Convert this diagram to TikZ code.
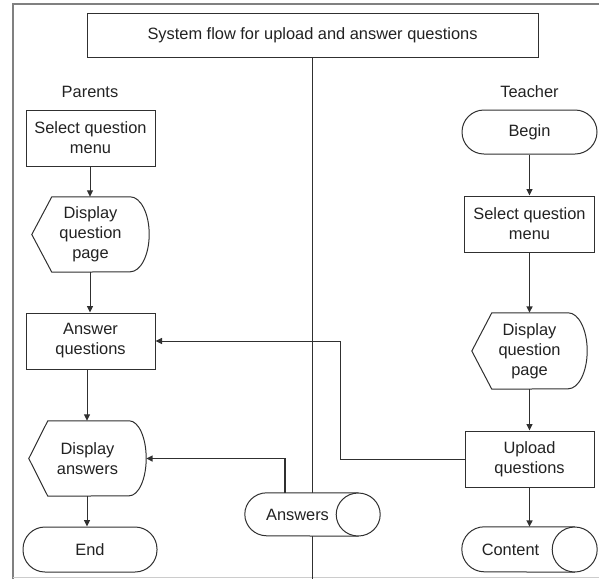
\documentclass[tikz,border=0pt]{standalone}
\usepackage{fontspec}
\setmainfont{Liberation Sans}
\usetikzlibrary{arrows.meta}
\definecolor{linec}{HTML}{303030}
\definecolor{framec}{HTML}{808080}
\definecolor{textc}{HTML}{222222}
\newcommand\labfont{\fontsize{16.4}{20}\selectfont}
\tikzset{
  box/.style={align=center, inner sep=0pt, font=\labfont, text=textc},
  proc/.style={box, draw=linec, line width=1pt, fill=white},
  term/.style={box, draw=linec, line width=1pt, fill=white, rounded corners=22pt},
  shapeline/.style={draw=linec, line width=1pt, fill=white},
  arr/.style={draw=linec, line width=1pt, -{Triangle[length=6.5pt,width=6pt]}},
  arrthick/.style={arr, line width=1.5pt},
  plain/.style={draw=linec, line width=1pt}
}
\begin{document}
\begin{tikzpicture}[x=1pt,y=-1pt]
\useasboundingbox (0,0) rectangle (599,579);
% outer frame
\draw[framec, line width=1.5pt] (13,579) -- (13,4) -- (599,4);
\draw[framec!40, line width=1pt] (13,577) -- (599,577);
% title
\node[proc, minimum width=451, minimum height=44] (title) at (312.5,35) {System flow for upload and answer questions};
\coordinate (cbot) at (312.5,579);
\draw[plain] (title.south) -- (cbot);
% lane labels
\node[box] (lblP) at (90,92) {Parents};
\node[box] (lblT) at (529.5,92) {Teacher};
% Parents lane
\node[proc, minimum width=129, minimum height=56] (selL) at (90.5,138) {Select question\\menu};
\node[box, minimum width=117, minimum height=75] (dqL) at (90.5,234.5) {};
\draw[shapeline] (dqL.west) -- ([xshift=20pt]dqL.north west) -- ([xshift=-19pt]dqL.north east)
  arc[start angle=-90, end angle=90, x radius=19, y radius=37.5] -- ([xshift=20pt]dqL.south west) -- cycle;
\node[box] at (dqL.center) {Display\\question\\page};
\node[proc, minimum width=129, minimum height=56] (ansL) at (90.5,341) {Answer\\questions};
\node[box, minimum width=117, minimum height=75] (dA) at (87.5,458.5) {};
\draw[shapeline] (dA.west) -- ([xshift=19pt]dA.north west) -- ([xshift=-17pt]dA.north east)
  arc[start angle=-90, end angle=90, x radius=17, y radius=37.5] -- ([xshift=19pt]dA.south west) -- cycle;
\node[box] at (dA.center) {Display\\answers};
\node[term, minimum width=134, minimum height=45] (endN) at (90,549.5) {End};
% Teacher lane
\node[term, minimum width=135, minimum height=44] (begin) at (529.5,132) {Begin};
\node[proc, minimum width=130, minimum height=56] (selR) at (529.5,224) {Select question\\menu};
\node[box, minimum width=115, minimum height=76] (dqR) at (529.5,351) {};
\draw[shapeline] (dqR.west) -- ([xshift=20pt]dqR.north west) -- ([xshift=-19pt]dqR.north east)
  arc[start angle=-90, end angle=90, x radius=19, y radius=38] -- ([xshift=20pt]dqR.south west) -- cycle;
\node[box] at (dqR.center) {Display\\question\\page};
\node[proc, minimum width=129, minimum height=56] (up) at (529.5,459) {Upload\\questions};
% Content store
\node[box, minimum width=135, minimum height=45] (cont) at (529.5,549.5) {};
\draw[shapeline] ([xshift=-22.5pt]cont.north east) -- ([xshift=22.5pt]cont.north west)
  arc[start angle=270, end angle=90, x radius=22.5, y radius=22.5] -- ([xshift=-22.5pt]cont.south east) -- cycle;
\draw[shapeline] ([xshift=-22.5pt]cont.east) ellipse[x radius=22.5, y radius=22.5];
\node[box] (contT) at (510.5,549.5) {Content};
% Answers store
\node[box, minimum width=135, minimum height=43] (ansC) at (312.5,514.5) {};
\draw[shapeline] ([xshift=-22pt]ansC.north east) -- ([xshift=22pt]ansC.north west)
  arc[start angle=270, end angle=90, x radius=22, y radius=21.5] -- ([xshift=-22pt]ansC.south east) -- cycle;
\draw[shapeline] ([xshift=-22pt]ansC.east) ellipse[x radius=22, y radius=21.5];
\node[box] (ansT) at (297.5,514.5) {Answers};
% connectors, Parents
\draw[arr] (selL.south -| 90,0) -- (dqL.north -| 90,0);
\draw[arr] (dqL.south -| 90,0) -- (ansL.north -| 90,0);
\draw[arr] (ansL.south -| 87,0) -- (dA.north -| 87,0);
\draw[arr] (dA.south -| 87,0) -- (endN.north -| 87,0);
% connectors, Teacher
\draw[arrthick] (begin.south) -- (selR.north);
\draw[arrthick] (selR.south) -- (dqR.north);
\draw[arrthick] (dqR.south) -- (up.north);
\draw[arrthick] (up.south) -- (cont.north);
% cross connectors
\coordinate (bendA) at (340,0);
\draw[arr] (up.west) -- (bendA |- up.west) -- (bendA |- ansL.east) -- (ansL.east);
\coordinate (ansTop) at ([xshift=40pt]ansC.north west);
\draw[arrthick] (ansTop) -- (ansTop |- dA.east) -- (dA.east);
\end{tikzpicture}
\end{document}
